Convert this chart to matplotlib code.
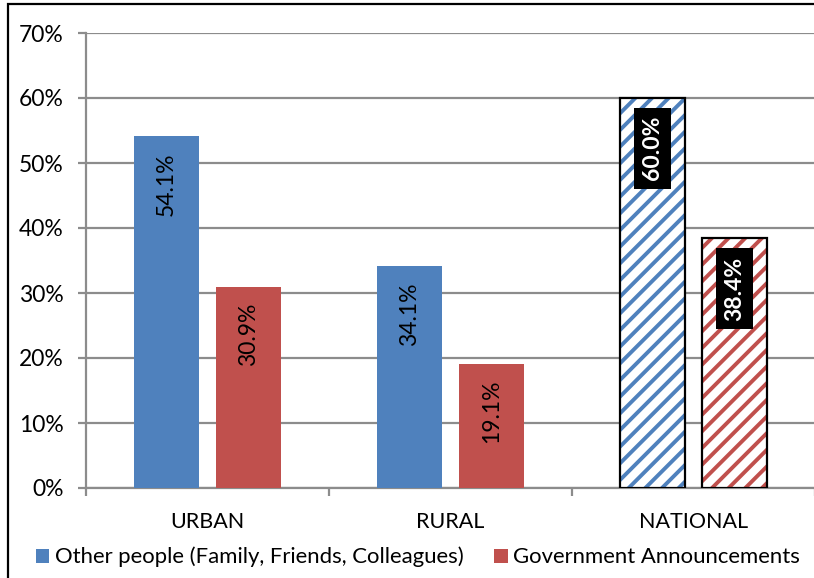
import matplotlib
matplotlib.use("Agg")
import matplotlib.pyplot as plt
from matplotlib.patches import Rectangle, Patch
from matplotlib.ticker import PercentFormatter, FixedLocator

categories = ["URBAN", "RURAL", "NATIONAL"]
series_names = ["Other people (Family, Friends, Colleagues)", "Government Announcements"]
other_people = [54.1, 34.1, 60.0]
government = [30.9, 19.1, 38.4]
y_ticks = [0, 10, 20, 30, 40, 50, 60, 70]

BLUE = "#4F81BD"
RED = "#C0504D"
GRID = "#8C8C8C"
FONT = "Lato"
FS_TICK = 16.5
FS_CAT = 15.5
FS_LABEL = 16.5
FS_LEGEND = 15.9

plt.rcParams["font.family"] = [FONT, "DejaVu Sans"]
plt.rcParams["hatch.linewidth"] = 2.8

W, H = 814, 578
fig = plt.figure(figsize=(W / 100, H / 100), dpi=100)
fig.patch.set_facecolor("white")

# outer frame (open on the right and bottom)
fig.add_artist(Rectangle((7.5 / W, -0.1), 1.2, 1 - 4 / H + 0.1, transform=fig.transFigure,
                         fill=False, edgecolor="black", linewidth=1.6))

ax = fig.add_axes([86 / W, 1 - 488 / H, (815 - 86) / W, (488 - 33) / H])
ax.set_xlim(-0.5, 2.5)
ax.set_ylim(0, 70)

width = 0.267
offset = 0.169
x = list(range(len(categories)))
hatched = [False, False, True]


def draw_series(values, color, shift):
    for xi, v, hat in zip(x, values, hatched):
        xc = xi + shift
        if hat:
            ax.bar(xc, v, width, color="white", edgecolor=color, linewidth=0,
                   hatch="//", zorder=3)
            ax.bar(xc, v, width, fill=False, edgecolor="black", linewidth=1.6, zorder=4)
            ax.annotate(f"{v:.1f}%", (xc, v), xytext=(0, -13), textcoords="offset points",
                        rotation=90, ha="center", va="top", color="white",
                        fontsize=FS_LABEL, fontweight="bold", zorder=6,
                        bbox=dict(boxstyle="square,pad=0.36", facecolor="black",
                                  edgecolor="none"))
        else:
            ax.bar(xc, v, width, color=color, linewidth=0, zorder=3)
            ax.annotate(f"{v:.1f}%", (xc, v), xytext=(0, -11.5), textcoords="offset points",
                        rotation=90, ha="center", va="top", color="black",
                        fontsize=FS_LABEL, zorder=6)


draw_series(other_people, BLUE, -offset)
draw_series(government, RED, offset)

# axes styling
ax.set_yticks(y_ticks)
ax.yaxis.set_major_formatter(PercentFormatter(decimals=0))
ax.yaxis.grid(True, color=GRID, linewidth=1.6, zorder=0)
ax.set_axisbelow(True)
for side in ["top", "right"]:
    ax.spines[side].set_visible(False)
for side in ["left", "bottom"]:
    ax.spines[side].set_color(GRID)
    ax.spines[side].set_linewidth(1.6)
ax.tick_params(axis="y", length=6, width=1.6, color=GRID, labelsize=FS_TICK, pad=10)

ax.set_xticks(x)
ax.set_xticklabels(categories)
ax.xaxis.set_minor_locator(FixedLocator([-0.5, 0.5, 1.5, 2.5]))
ax.tick_params(axis="x", which="major", length=0, labelsize=FS_CAT, pad=17)
ax.tick_params(axis="x", which="minor", length=6, width=1.6, color=GRID)

handles = [Patch(facecolor=BLUE, edgecolor="none"), Patch(facecolor=RED, edgecolor="none")]
fig.legend(handles, series_names, loc="center", bbox_to_anchor=(418 / W, 1 - 557 / H),
           ncol=2, frameon=False, fontsize=FS_LEGEND, handlelength=0.6, handleheight=0.6,
           handletextpad=0.25, columnspacing=1.4, borderaxespad=0)

fig.savefig("out.png", dpi=100, facecolor="white")
